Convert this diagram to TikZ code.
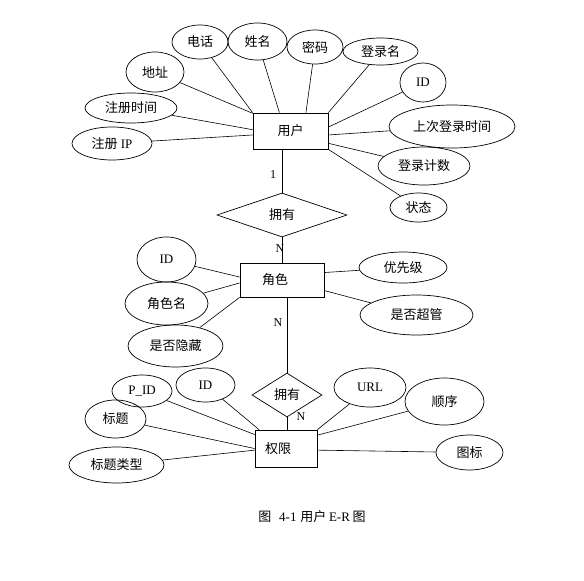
\documentclass[tikz,border=0pt]{standalone}
\usepackage{fontspec}
\setmainfont{Liberation Serif}
\newfontfamily\cjk{Noto Sans CJK SC}
\newcommand\zhtxt[1]{{\cjk\fontsize{13}{15}\selectfont #1}}
\usetikzlibrary{shapes.geometric}
\begin{document}
\begin{tikzpicture}[x=1pt,y=-1pt,
  every node/.style={font=\fontsize{13}{15}\selectfont, inner sep=0pt},
  attr/.style={draw, ellipse, line width=0.7pt},
  ent/.style={draw, rectangle, line width=0.8pt},
  rel/.style={draw, diamond, line width=0.7pt},
  conn/.style={line width=0.6pt},
  card/.style={font=\fontsize{12}{14}\selectfont}]
\useasboundingbox (0,0) rectangle (584,581);
\fill[white] (0,0) rectangle (584,581);

% ---- user entity and its attributes
\node[ent, minimum width=75, minimum height=36] (user) at (290.5,131) {\zhtxt{用户}};
\node[attr, minimum width=56, minimum height=34] (dianhua) at (200,42) {\zhtxt{电话}};
\node[attr, minimum width=59, minimum height=37] (xingming) at (257.5,41.5) {\zhtxt{姓名}};
\node[attr, minimum width=56, minimum height=34] (mima) at (315,47) {\zhtxt{密码}};
\node[attr, minimum width=58, minimum height=40] (dizhi) at (155,72) {\zhtxt{地址}};
\node[attr, minimum width=92, minimum height=30] (zcsj) at (131,108) {\zhtxt{注册时间}};
\node[attr, minimum width=80, minimum height=33] (zcip) at (112,143.5) {\zhtxt{注册} IP};
\node[attr, minimum width=75, minimum height=27] (dlm) at (380.5,51.5) {\zhtxt{登录名}};
\node[attr, minimum width=46, minimum height=39] (uid) at (423,82.5) {ID};
\node[attr, minimum width=126, minimum height=43] (scdlsj) at (452,126.5) {\zhtxt{上次登录时间}};
\node[attr, minimum width=92, minimum height=38] (dljs) at (424,166) {\zhtxt{登录计数}};
\node[attr, minimum width=57, minimum height=29] (zt) at (418.5,207.5) {\zhtxt{状态}};

\draw[conn] (dianhua) -- (user.north west);
\draw[conn] (xingming) -- (user.121);
\draw[conn] (mima) -- (user.50);
\draw[conn] (dizhi) -- (user.155);
\draw[conn] (zcsj) -- (user.178);
\draw[conn] (zcip) -- (user.186);
\draw[conn] (dlm) -- (user.north east);
\draw[conn] (uid) -- (user.6);
\draw[conn] (scdlsj) -- (user.354);
\draw[conn] (dljs) -- (user.342);
\draw[conn] (zt) -- (user.south east);

% ---- relationship user-role
\node[rel, minimum width=130, minimum height=44] (own1) at (282,215) {\zhtxt{拥有}};
\draw[conn] (own1.north |- user.south) -- (own1.north);

% ---- role entity and its attributes
\node[ent, minimum width=84, minimum height=34,
  label={[xshift=-7pt]center:\zhtxt{角色}}] (role) at (282,280) {};
\draw[conn] (own1.south) -- (role.north);
\node[attr, minimum width=59, minimum height=45] (rid) at (166.5,259.5) {ID};
\node[attr, minimum width=83, minimum height=43] (jsm) at (166.5,303.5) {\zhtxt{角色名}};
\node[attr, minimum width=95, minimum height=42] (sfyc) at (175.5,346) {\zhtxt{是否隐藏}};
\node[attr, minimum width=88, minimum height=31] (yxj) at (403,267.5) {\zhtxt{优先级}};
\node[attr, minimum width=113, minimum height=40] (sfcg) at (416.5,315) {\zhtxt{是否超管}};
\draw[conn] (rid) -- (role.176);
\draw[conn] (jsm) -- (role.184);
\draw[conn] (sfyc) -- (role.south west);
\draw[conn] (yxj) -- (role.10);
\draw[conn] (sfcg) -- (role.346);

% ---- relationship role-permission
\node[rel, minimum width=70, minimum height=44] (own2) at (287,395) {\zhtxt{拥有}};
\draw[conn] (own2.north |- role.south) -- (own2.north);

% ---- permission entity and its attributes
\node[ent, minimum width=62, minimum height=37,
  label={[xshift=-8pt]center:\zhtxt{权限}}] (perm) at (286,448.5) {};
\draw[conn] (own2.south) -- (own2.south |- perm.north);
\node[attr, minimum width=60, minimum height=32] (pid) at (142,391) {P\_ID};
\node[attr, minimum width=59, minimum height=34] (pmid) at (205.5,385) {ID};
\node[attr, minimum width=61, minimum height=38] (bt) at (115.5,419) {\zhtxt{标题}};
\node[attr, minimum width=95, minimum height=36] (btlx) at (116.5,465) {\zhtxt{标题类型}};
\node[attr, minimum width=72, minimum height=39] (url) at (370,387.5) {URL};
\node[attr, minimum width=79, minimum height=47] (sx) at (444.5,401.5) {\zhtxt{顺序}};
\node[attr, minimum width=67, minimum height=35] (tb) at (469.5,452.5) {\zhtxt{图标}};
\draw[conn] (pid) -- (perm.156);
\draw[conn] (pmid) -- (perm.145);
\draw[conn] (bt) -- (perm.180);
\draw[conn] (btlx) -- (perm.183);
\draw[conn] (url) -- (perm.north east);
\draw[conn] (sx) -- (perm.23);
\draw[conn] (tb) -- (perm.357);

% ---- cardinalities
\node[card] (c1) at (273,175) {1};
\node[card] (c2) at (280,249) {N};
\node[card] (c3) at (278,323) {N};
\node[card] (c4) at (301,417) {N};

% ---- caption
\node (cap) at (312,517) {\zhtxt{图}\hspace{0.6em}4-1\hspace{0.3em}\zhtxt{用户}\hspace{0.2em}E-R\hspace{0.2em}\zhtxt{图}};
\end{tikzpicture}
\end{document}
